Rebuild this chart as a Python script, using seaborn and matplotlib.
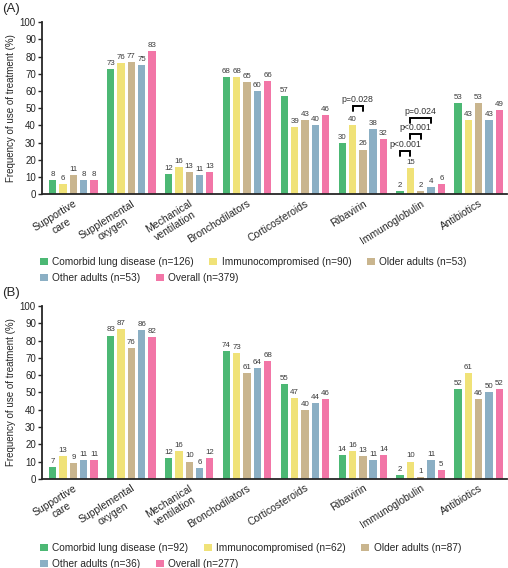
import numpy as np
import pandas as pd
import seaborn as sns
from matplotlib import pyplot as plt
from matplotlib.patches import Patch

# treatment categories (x axis)
treatments = [
    "Supportive\ncare",
    "Supplemental\noxygen",
    "Mechanical\nventilation",
    "Bronchodilators",
    "Corticosteroids",
    "Ribavirin",
    "Immunoglobulin",
    "Antibiotics",
]
groups = ["Comorbid lung disease", "Immunocompromised", "Older adults", "Other adults", "Overall"]
colors = ["#4cb874", "#f0e278", "#c9b58e", "#8bafc4", "#f276a7"]

# panel A
n_a = [126, 90, 53, 53, 379]
comorbid_a = [8, 73, 12, 68, 57, 30, 2, 53]
immuno_a = [6, 76, 16, 68, 39, 40, 15, 43]
older_a = [11, 77, 13, 65, 43, 26, 2, 53]
other_a = [8, 75, 11, 60, 40, 38, 4, 43]
overall_a = [8, 83, 13, 66, 46, 32, 6, 49]

# panel B
n_b = [92, 62, 87, 36, 277]
comorbid_b = [7, 83, 12, 74, 55, 14, 2, 52]
immuno_b = [13, 87, 16, 73, 47, 16, 10, 61]
older_b = [9, 76, 10, 61, 40, 13, 1, 46]
other_b = [11, 86, 6, 64, 44, 11, 11, 50]
overall_b = [11, 82, 12, 68, 46, 14, 5, 52]

# p-value brackets for panel A: (treatment, group1, group2, height, text)
brackets_a = [
    ("Ribavirin", 1, 2, 51.5, "p=0.028"),
    ("Immunoglobulin", 0, 1, 25, "p<0.001"),
    ("Immunoglobulin", 1, 2, 35, "p<0.001"),
    ("Immunoglobulin", 1, 3, 44.5, "p=0.024"),
]

sns.set_style("ticks")
plt.rcParams["font.family"] = ["Liberation Sans", "DejaVu Sans"]


def make_df(series):
    rows = []
    for g, vals in zip(groups, series):
        for t, v in zip(treatments, vals):
            rows.append({"treatment": t, "group": g, "value": v})
    return pd.DataFrame(rows)


def draw_panel(ax, series, ns, tag, legend_y, brackets=()):
    df = make_df(series)
    sns.barplot(
        data=df, x="treatment", y="value", hue="group",
        palette=colors, width=0.89, gap=0.29, ax=ax, legend=False,
        saturation=1, linewidth=0,
    )
    for cont in ax.containers:
        ax.bar_label(cont, fmt="%d", padding=1.5, fontsize=5.7, color="#3a3a3a")

    ax.set_ylim(0, 100)
    ax.set_yticks(np.arange(0, 101, 10))
    ax.set_xlim(-0.54, 7.49)
    ax.set_xlabel("")
    ax.set_ylabel("Frequency of use of treatment (%)", fontsize=7, labelpad=3)
    ax.tick_params(axis="y", labelsize=7, length=3, width=1, pad=1.5)
    ax.tick_params(axis="x", length=0, pad=3)
    ax.set_xticks(range(len(treatments)))
    ax.set_xticklabels(treatments, rotation=32, ha="right", rotation_mode="anchor",
                       fontsize=7.5, multialignment="center")
    sns.despine(ax=ax)
    for s in ["left", "bottom"]:
        ax.spines[s].set_linewidth(1.3)

    # significance brackets
    for t, g1, g2, h, txt in brackets:
        i = treatments.index(t)
        b1 = ax.containers[g1][i]
        b2 = ax.containers[g2][i]
        x1 = b1.get_x() + b1.get_width() / 2
        x2 = b2.get_x() + b2.get_width() / 2
        ax.plot([x1, x1, x2, x2], [h - 3, h, h, h - 3], color="black", lw=1.4,
                solid_joinstyle="miter", clip_on=False)
        ax.text((x1 + x2) / 2, h + 1.2, txt, ha="center", va="bottom",
                fontsize=6.3, color="#333333")

    ax.figure.text(0.004, ax.get_position().y1 + 0.012, tag, fontsize=9.5, va="bottom")

    # legend in two rows, left aligned
    handles = [Patch(facecolor=c, edgecolor="none") for c in colors]
    labels = [f"{g} (n={n})" for g, n in zip(groups, ns)]
    kw = dict(frameon=False, fontsize=7.3, handlelength=0.8, handleheight=0.8,
              handletextpad=0.45, columnspacing=1.5, borderpad=0, borderaxespad=0,
              loc="upper left")
    ax.figure.legend(handles[:3], labels[:3], ncol=3,
                     bbox_to_anchor=(0.078, legend_y), **kw)
    ax.figure.legend(handles[3:], labels[3:], ncol=2,
                     bbox_to_anchor=(0.078, legend_y - 0.028), **kw)


fig = plt.figure(figsize=(5.08, 5.68), dpi=100)
ax_a = fig.add_axes([0.083, 0.658, 0.915, 0.303])
ax_b = fig.add_axes([0.083, 0.157, 0.915, 0.304])

draw_panel(ax_a, [comorbid_a, immuno_a, older_a, other_a, overall_a], n_a, "(A)",
           1 - 257 / 568, brackets_a)
draw_panel(ax_b, [comorbid_b, immuno_b, older_b, other_b, overall_b], n_b, "(B)",
           1 - 543 / 568)

plt.savefig("out.png", dpi=100)
